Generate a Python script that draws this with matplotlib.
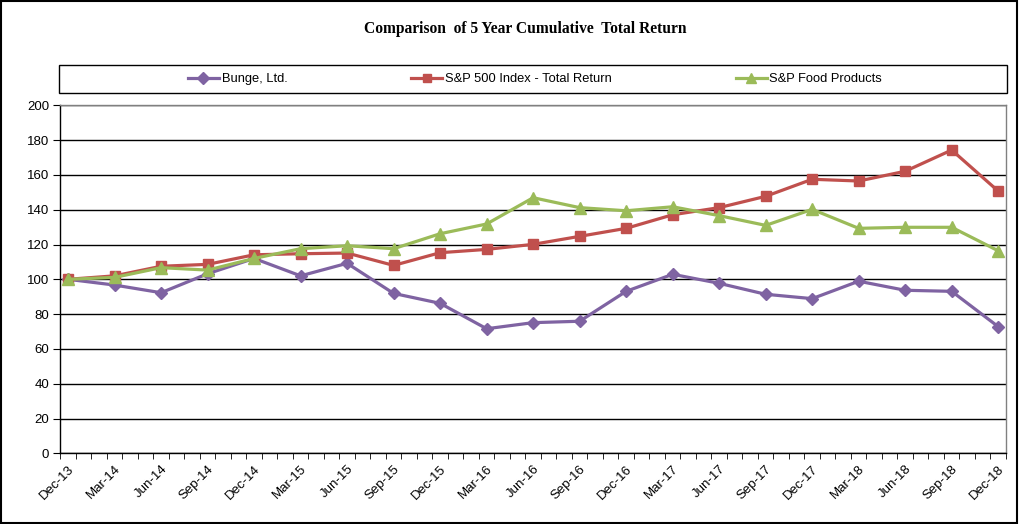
import numpy as np
import matplotlib.pyplot as plt
from matplotlib.patches import Rectangle
from matplotlib.ticker import MultipleLocator, FixedLocator

# --- Data (indexed to 100 at Dec-13) ---
quarters = ["Dec-13", "Mar-14", "Jun-14", "Sep-14", "Dec-14", "Mar-15", "Jun-15",
            "Sep-15", "Dec-15", "Mar-16", "Jun-16", "Sep-16", "Dec-16", "Mar-17",
            "Jun-17", "Sep-17", "Dec-17", "Mar-18", "Jun-18", "Sep-18", "Dec-18"]
bunge = [100, 96.7, 92.3, 103.2, 112.0, 102.0, 109.2, 91.9, 86.2, 71.6, 75.1,
         75.9, 93.1, 102.9, 97.7, 91.4, 88.9, 98.9, 93.7, 93.1, 72.8]
sp500 = [100, 102.0, 107.5, 108.6, 114.1, 114.7, 115.1, 108.0, 115.3, 117.2, 120.1,
         124.7, 129.3, 137.1, 141.2, 147.7, 157.5, 156.5, 162.1, 174.3, 150.7]
food = [100, 101.1, 106.7, 105.3, 112.0, 117.6, 119.3, 117.6, 126.2, 131.8, 146.9,
        141.2, 139.4, 141.7, 136.6, 131.0, 140.2, 129.3, 129.9, 129.9, 116.4]

# month index of each quarter-end point (date axis, monthly base)
months = np.arange(len(quarters)) * 3

plt.rcParams['font.family'] = ['Liberation Sans', 'DejaVu Sans']

fig = plt.figure(figsize=(10.19, 5.24), dpi=100)
ax = fig.add_axes([0.0592, 0.1349, 0.9280, 0.6641])

ax.plot(months, bunge, color="#7F63A2", lw=2.3, marker="D", ms=6.5, label="Bunge, Ltd.", zorder=3)
ax.plot(months, sp500, color="#C0504D", lw=2.3, marker="s", ms=7, label="S&P 500 Index - Total Return", zorder=3)
ax.plot(months, food, color="#9BBB59", lw=2.3, marker="^", ms=8, label="S&P Food Products", zorder=3)

ax.set_xlim(-0.5, months[-1] + 0.5)
ax.set_ylim(0, 200)
ax.yaxis.set_major_locator(MultipleLocator(20))
ax.grid(axis="y", color="black", lw=1.0)
ax.set_axisbelow(True)

ax.set_xticks(months)
ax.set_xticklabels(quarters, rotation=45, ha="right", va="top", rotation_mode="anchor", fontsize=9.5)
ax.xaxis.set_minor_locator(FixedLocator(np.arange(-0.5, months[-1] + 1.0, 1.0)))
ax.tick_params(axis="x", which="major", length=0, pad=7)
ax.tick_params(axis="x", which="minor", length=4, direction="out", color="black")
ax.tick_params(axis="y", length=5, direction="out", labelsize=9.5, pad=3)

for s in ["left", "bottom"]:
    ax.spines[s].set_color("black")
    ax.spines[s].set_linewidth(1.0)
for s in ["top", "right"]:
    ax.spines[s].set_color("#808080")
    ax.spines[s].set_linewidth(1.0)

fig.text(0.515, 0.944, "Comparison  of 5 Year Cumulative  Total Return", ha="center", va="center",
         fontsize=11.2, fontweight="bold", family="Liberation Serif")

# legend box
fig.patches.append(Rectangle((0.0579, 0.8225), 0.9303, 0.0534, transform=fig.transFigure,
                             fill=False, edgecolor="black", lw=1.0))
handles, labels = ax.get_legend_handles_labels()
fig.legend(handles, labels, loc="center", bbox_to_anchor=(0.525, 0.849), ncol=3, frameon=False,
           fontsize=9.3, columnspacing=9.6, handlelength=2.4, handletextpad=0.2, markerscale=0.9)

# outer border
fig.patches.append(Rectangle((0.001, 0.002), 0.997, 0.996, transform=fig.transFigure,
                             fill=False, edgecolor="black", lw=1.5))

fig.savefig("out.png", dpi=100)
